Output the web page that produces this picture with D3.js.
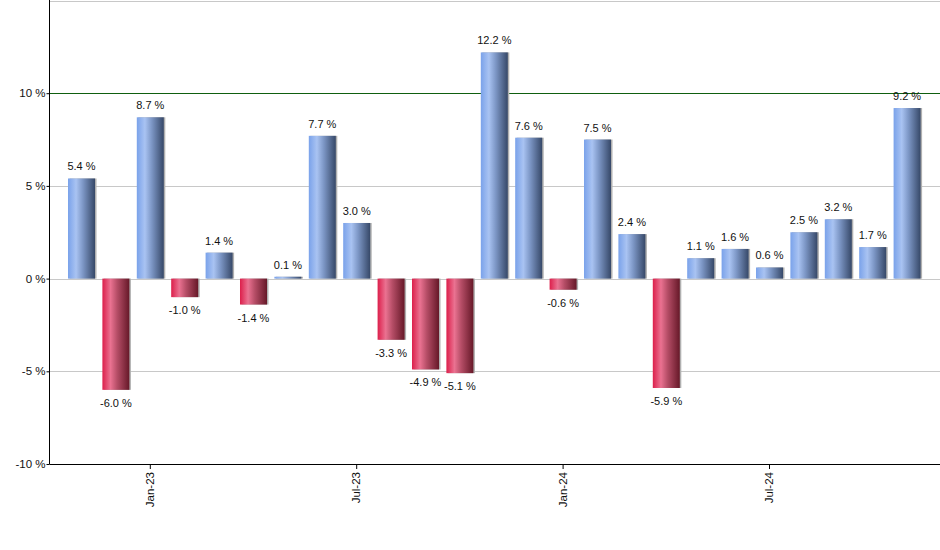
<!DOCTYPE html>
<html><head><meta charset="utf-8">
<script src="https://cdn.jsdelivr.net/npm/d3@7"></script>
<style>body{margin:0;background:#fff}svg{display:block}</style>
</head><body>
<svg id="c" width="940" height="550"></svg>
<script>
const months = ["Nov-22","Dec-22","Jan-23","Feb-23","Mar-23","Apr-23","May-23","Jun-23","Jul-23","Aug-23","Sep-23","Oct-23","Nov-23","Dec-23","Jan-24","Feb-24","Mar-24","Apr-24","May-24","Jun-24","Jul-24","Aug-24","Sep-24","Oct-24","Nov-24"];
const returns = [5.4,-6.0,8.7,-1.0,1.4,-1.4,0.1,7.7,3.0,-3.3,-4.9,-5.1,12.2,7.6,-0.6,7.5,2.4,-5.9,1.1,1.6,0.6,2.5,3.2,1.7,9.2];
const xTickLabels = ["Jan-23","Jul-23","Jan-24","Jul-24"];
const yTicks = [-10,-5,0,5,10,15];
const yTickLabels = ["-10 %","-5 %","0 %","5 %","10 %",""];

(function(){
const svg = d3.select("#c");
const pL = 49.5, pR = 940, pT = 0.5, pB = 464;
const y = d3.scaleLinear().domain([-10,15]).range([pB, pT]);
const x = d3.scaleBand().domain(months).range([64.3, 924.3]).paddingInner(0.215).paddingOuter(0.1075);

const defs = svg.append("defs");
function grad(id, stops){
  const g = defs.append("linearGradient").attr("id",id).attr("x1","0").attr("x2","1").attr("y1","0").attr("y2","0");
  stops.forEach(s=>g.append("stop").attr("offset",s[0]).attr("stop-color",s[1]));
}
grad("gb",[[0,"#7aa2ea"],[0.3,"#a9c3f2"],[0.55,"#7d97c6"],[1,"#364868"]]);
grad("gr",[[0,"#dc1f4b"],[0.3,"#ea7291"],[0.55,"#b54d66"],[1,"#661828"]]);

svg.append("g").selectAll("line").data(yTicks).join("line")
  .attr("x1",pL).attr("x2",pR)
  .attr("y1",d=>Math.round(y(d))+0.5).attr("y2",d=>Math.round(y(d))+0.5)
  .attr("stroke",d=>d===10?"#0f5f0f":"#c8c8c8").attr("stroke-width",1);

const bars = svg.append("g");
bars.selectAll("rect.sh").data(returns).join("rect").attr("class","sh")
  .attr("x",(d,i)=>x(months[i])+1.5)
  .attr("y",d=>d>=0?y(d):y(0))
  .attr("width",x.bandwidth())
  .attr("height",d=>Math.abs(y(d)-y(0)))
  .attr("fill","#b0b0b0");
bars.selectAll("rect.b").data(returns).join("rect").attr("class","b")
  .attr("x",(d,i)=>x(months[i]))
  .attr("y",d=>d>=0?y(d):y(0))
  .attr("width",x.bandwidth())
  .attr("height",d=>Math.abs(y(d)-y(0)))
  .attr("fill",d=>d>=0?"url(#gb)":"url(#gr)");

svg.append("g").selectAll("text").data(returns).join("text")
  .attr("x",(d,i)=>x(months[i])+x.bandwidth()/2)
  .attr("y",d=>d>=0?y(d)-8:y(d)+17)
  .attr("text-anchor","middle")
  .attr("font-family","Liberation Sans, Arial, sans-serif")
  .attr("font-size","11px").attr("fill","#111")
  .text(d=>(d.toFixed(1))+" %");

const yAxis = d3.axisLeft(y).tickValues(yTicks.slice(0,5)).tickSize(3).tickPadding(1).tickFormat((d,i)=>yTickLabels[i]);
const gy = svg.append("g").attr("transform",`translate(${pL},0)`).call(yAxis);
gy.select(".domain").attr("stroke","#000").attr("d",`M0,${pT-0.5}V${pB}`);
gy.selectAll("text").attr("font-family","Liberation Sans, Arial, sans-serif").attr("font-size","11.5px").attr("fill","#111");

const xAxis = d3.axisBottom(x).tickValues(xTickLabels).tickSize(5).tickSizeOuter(0);
const gx = svg.append("g").attr("transform",`translate(0,${pB})`).call(xAxis);
gx.select(".domain").attr("stroke","#000").attr("d",`M${pL},0.5H${pR}`);
gx.selectAll(".tick line").attr("stroke","#000");
gx.selectAll("text").attr("font-family","Liberation Sans, Arial, sans-serif").attr("font-size","11.5px").attr("fill","#111")
  .attr("transform","rotate(-90)").attr("text-anchor","end").attr("dx","-8").attr("dy","0.32em").attr("y",0).attr("x",0);
})();
</script>
</body></html>
